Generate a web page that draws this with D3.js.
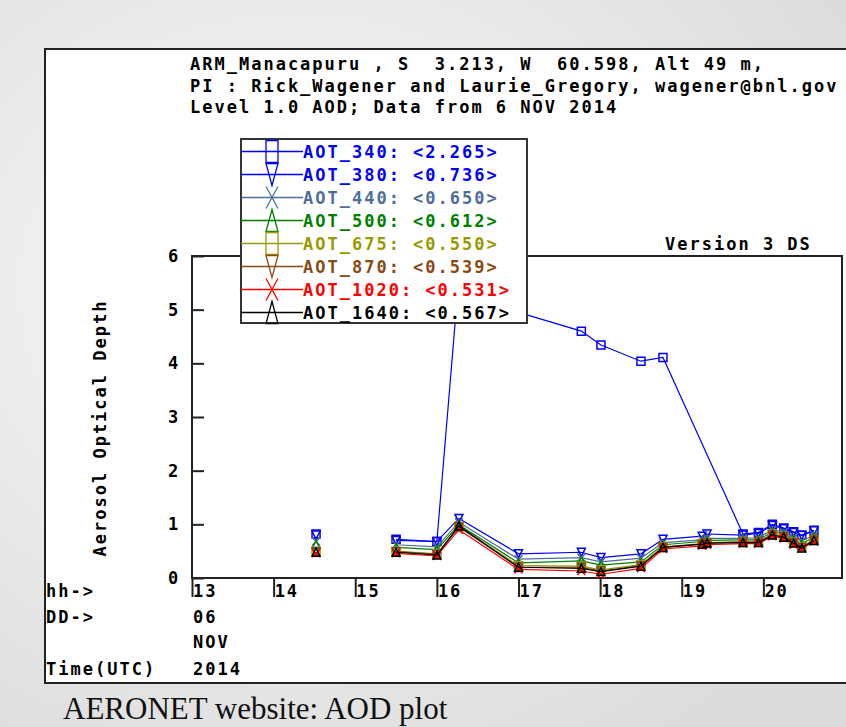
<html>
<head>
<style>
  body { margin: 0; }
  text { font-family: "DejaVu Sans Mono", monospace; font-weight: bold; white-space: pre; }
</style>
</head>
<body>
<svg id="chart" width="846" height="727"></svg>
<script src="https://cdn.jsdelivr.net/npm/d3@7"></script>
<script>
// hours (UTC) of each measurement, 6 NOV 2014
const hours = [14.52, 15.50, 16.00, 16.27, 17.00, 17.77, 18.01, 18.50, 18.77, 19.25, 19.31, 19.75, 19.94, 20.11, 20.25, 20.37, 20.47, 20.62]
const segmentStarts = [1] // no line drawn into these points

const aot340  = [0.82, 0.72, 0.68, 5.60, 4.95, 4.60, 4.34, 4.04, 4.11, null, null, 0.82, 0.85, 1.00, 0.93, 0.86, 0.80, 0.89]
const aot380  = [0.80, 0.70, 0.68, 1.11, 0.45, 0.48, 0.38, 0.45, 0.72, 0.78, 0.82, 0.80, 0.83, 0.98, 0.92, 0.85, 0.79, 0.88]
const aot440  = [0.68, 0.62, 0.58, 1.04, 0.35, 0.38, 0.30, 0.37, 0.66, 0.71, 0.74, 0.74, 0.75, 0.90, 0.85, 0.76, 0.69, 0.80]
const aot500  = [0.62, 0.57, 0.53, 0.99, 0.28, 0.32, 0.24, 0.30, 0.62, 0.68, 0.70, 0.71, 0.71, 0.86, 0.82, 0.72, 0.64, 0.76]
const aot675  = [0.50, 0.50, 0.45, 0.96, 0.23, 0.22, 0.15, 0.25, 0.58, 0.64, 0.66, 0.68, 0.68, 0.82, 0.78, 0.67, 0.58, 0.72]
const aot870  = [0.49, 0.49, 0.44, 0.95, 0.20, 0.20, 0.13, 0.23, 0.57, 0.63, 0.65, 0.67, 0.67, 0.81, 0.77, 0.66, 0.57, 0.71]
const aot1020 = [0.46, 0.46, 0.41, 0.90, 0.16, 0.13, 0.07, 0.18, 0.54, 0.60, 0.62, 0.64, 0.64, 0.78, 0.74, 0.62, 0.55, 0.68]
const aot1640 = [0.48, 0.48, 0.43, 0.97, 0.20, 0.18, 0.12, 0.22, 0.57, 0.63, 0.65, 0.66, 0.66, 0.80, 0.76, 0.65, 0.56, 0.70]

const seriesNames = ["AOT_340", "AOT_380", "AOT_440", "AOT_500", "AOT_675", "AOT_870", "AOT_1020", "AOT_1640"]
const seriesMeans = ["2.265", "0.736", "0.650", "0.612", "0.550", "0.539", "0.531", "0.567"]
const yTicks = [0, 1, 2, 3, 4, 5, 6]
const xTicks = [13, 14, 15, 16, 17, 18, 19, 20]
const titleLines = [
  "ARM_Manacapuru , S  3.213, W  60.598, Alt 49 m,",
  "PI : Rick_Wagener and Laurie_Gregory, wagener@bnl.gov",
  "Level 1.0 AOD; Data from 6 NOV 2014"
]

const allValues = [aot340, aot380, aot440, aot500, aot675, aot870, aot1020, aot1640]
const colors = ["#0000ff", "#0000ff", "#4f6d9a", "#008000", "#999900", "#8b4a14", "#ff0000", "#000000"]
const markers = ["square", "down", "x", "up", "square", "down", "x", "up"]

let svg = d3.select("#chart")

// slide background
let defs = svg.append("defs")
let grad = defs.append("radialGradient").attr("id", "bg")
    .attr("cx", "35%").attr("cy", "40%").attr("r", "75%")
grad.append("stop").attr("offset", "0%").attr("stop-color", "#fbfbfb")
grad.append("stop").attr("offset", "100%").attr("stop-color", "#dcdcdc")
svg.append("rect").attr("width", 846).attr("height", 727).attr("fill", "url(#bg)")

// white plot sheet
svg.append("rect").attr("x", 45).attr("y", 49).attr("width", 900).attr("height", 634)
    .attr("fill", "white").attr("stroke", "#222").attr("stroke-width", 2)

svg.append("text").attr("x", 63).attr("y", 719)
    .style("font-family", "'Liberation Serif', serif").style("font-weight", "normal")
    .style("font-size", "31px").attr("fill", "#111")
    .text("AERONET website: AOD plot")

let x = d3.scaleLinear().domain([13, 21]).range([192, 845])
let y = d3.scaleLinear().domain([0, 6]).range([578, 256])

const ls = "2px"
function label(g, tx, ty, str, color) {
  return g.append("text").attr("x", tx).attr("y", ty)
      .style("font-size", "17px").style("letter-spacing", ls)
      .attr("fill", color || "#000").text(str)
}

let header = svg.append("g")
titleLines.forEach((t, i) => label(header, 190, 70 + i * 21.5, t))
label(header, 665, 250, "Version 3 DS")

// axes box
let axes = svg.append("g")
axes.append("rect").attr("x", x(13)).attr("y", y(6))
    .attr("width", 842 - x(13)).attr("height", y(0) - y(6))
    .attr("fill", "none").attr("stroke", "#222").attr("stroke-width", 2)

let yAxis = d3.axisRight(y).tickValues(yTicks).tickSize(12).tickFormat("")
axes.append("g").attr("transform", `translate(${x(13)},0)`).call(yAxis)
    .call(g => g.select(".domain").remove())
    .selectAll("line").attr("stroke", "#222").attr("stroke-width", 2)
yTicks.forEach(v => label(axes, 168, y(v) + 6, String(v)))

let xAxis = d3.axisBottom(x).tickValues(xTicks).tickSize(19).tickFormat("")
axes.append("g").attr("transform", `translate(0,${y(0)})`).call(xAxis)
    .call(g => g.select(".domain").remove())
    .selectAll("line").attr("stroke", "#222").attr("stroke-width", 2)
xTicks.forEach(h => label(axes, x(h) + 1, 597, String(h)))

label(axes, 46, 597, "hh->")
label(axes, 46, 623, "DD->")
label(axes, 193, 623, "06")
label(axes, 193, 648, "NOV")
label(axes, 46, 675, "Time(UTC)")
label(axes, 193, 675, "2014")

axes.append("text").attr("transform", "translate(106,428) rotate(-90)")
    .attr("text-anchor", "middle")
    .style("font-size", "17px").style("letter-spacing", ls)
    .text("Aerosol Optical Depth")

function markerPath(type, w, h) {
  if (type === "square") return `M${-w},${-h}H${w}V${h}H${-w}Z`
  if (type === "down") return `M${-w},${-h}H${w}L0,${h}Z`
  if (type === "up") return `M${-w},${h}H${w}L0,${-h}Z`
  return `M${-w},${-h}L${w},${h}M${w},${-h}L${-w},${h}`
}

// data
let plot = svg.append("g")
let line = d3.line().x(d => x(d.h)).y(d => y(d.v))
allValues.forEach((vals, si) => {
  let pts = hours.map((h, i) => ({ h: h, v: vals[i], i: i })).filter(d => d.v !== null)
  let segs = []
  pts.forEach(p => {
    if (segs.length === 0 || segmentStarts.includes(p.i)) segs.push([])
    segs[segs.length - 1].push(p)
  })
  plot.selectAll(null).data(segs).enter().append("path")
      .attr("d", line).attr("fill", "none")
      .attr("stroke", colors[si]).attr("stroke-width", 1.2)
  plot.selectAll(null).data(pts).enter().append("path")
      .attr("transform", d => `translate(${x(d.h)},${y(d.v)})`)
      .attr("d", markerPath(markers[si], 4, 4))
      .attr("fill", "none").attr("stroke", colors[si]).attr("stroke-width", 1.5)
})

// legend
let legend = svg.append("g")
legend.append("rect").attr("x", 241).attr("y", 139).attr("width", 286).attr("height", 184)
    .attr("fill", "white").attr("stroke", "#333").attr("stroke-width", 2)
seriesNames.forEach((name, i) => {
  let ly = 151.5 + i * 23
  legend.append("line").attr("x1", 241).attr("x2", 303).attr("y1", ly).attr("y2", ly)
      .attr("stroke", colors[i]).attr("stroke-width", 1.3)
  legend.append("path").attr("transform", `translate(272,${ly})`)
      .attr("d", markerPath(markers[i], 6, 11))
      .attr("fill", "none").attr("stroke", colors[i]).attr("stroke-width", 1.3)
  label(legend, 303, ly + 6, `${name}: <${seriesMeans[i]}>`, colors[i])
})
</script>
</body>
</html>
